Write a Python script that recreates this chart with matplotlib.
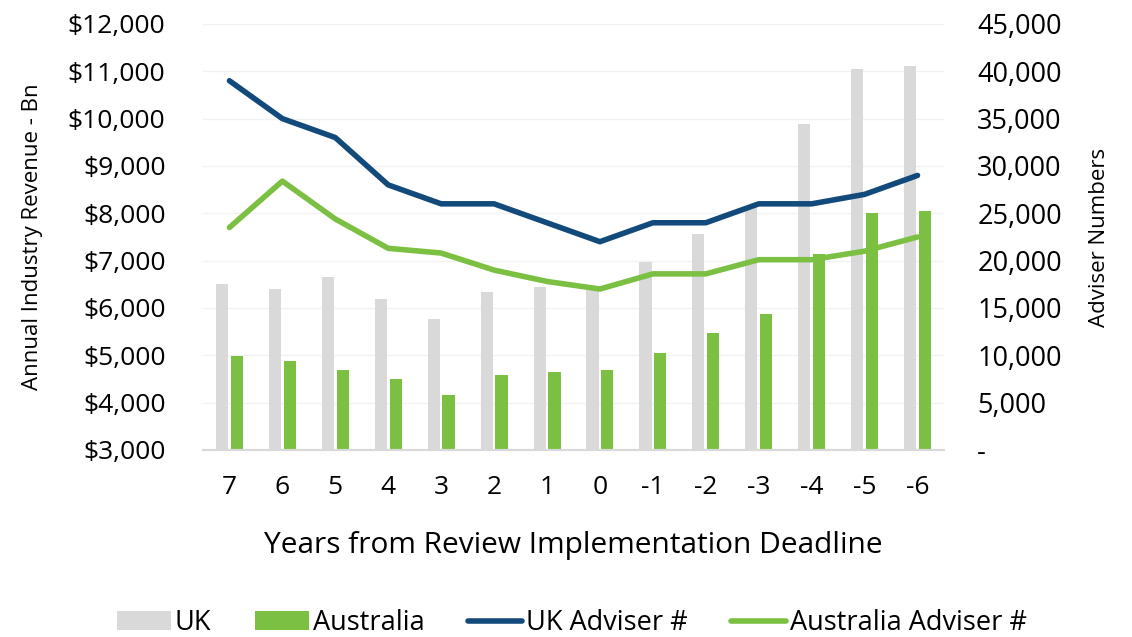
import numpy as np
import matplotlib.pyplot as plt
from matplotlib.ticker import FuncFormatter

# Revenue (left axis, $) and adviser counts (right axis)
years = ["7", "6", "5", "4", "3", "2", "1", "0", "-1", "-2", "-3", "-4", "-5", "-6"]
uk_revenue = [6500, 6410, 6650, 6200, 5770, 6340, 6440, 6380, 6970, 7570, 8150, 9880, 11040, 11120]
aus_revenue = [4990, 4890, 4690, 4490, 4170, 4590, 4650, 4700, 5040, 5480, 5880, 7150, 8000, 8040]
uk_advisers = [39000, 35000, 33000, 28000, 26000, 26000, 24000, 22000, 24000, 24000, 26000, 26000, 27000, 29000]
aus_advisers = [23500, 28400, 24400, 21300, 20800, 19000, 17800, 17000, 18600, 18600, 20100, 20100, 21000, 22500]

plt.rcParams['font.family'] = ['Open Sans', 'DejaVu Sans']

fig = plt.figure(figsize=(11.32, 6.37), dpi=100)
ax = fig.add_axes([0.1793, 0.2936, 0.6546, 0.6688])
ax2 = ax.twinx()

x = np.arange(len(years))
w = 0.23
ax.bar(x - 0.14, uk_revenue, width=w, color="#d9d9d9", label="UK", zorder=2)
ax.bar(x + 0.14, aus_revenue, width=w, color="#7bc043", label="Australia", zorder=2)
ax2.plot(x, uk_advisers, color="#124a7c", lw=4, solid_capstyle="round", label="UK Adviser #")
ax2.plot(x, aus_advisers, color="#7bc043", lw=4, solid_capstyle="round", label="Australia Adviser #")

ax.set_xlim(-0.5, len(years) - 0.5)
ax.set_ylim(3000, 12000)
ax.set_yticks(np.arange(3000, 12001, 1000))
ax.yaxis.set_major_formatter(FuncFormatter(lambda v, p: f"${v:,.0f}"))
ax2.set_ylim(0, 45000)
ax2.set_yticks(np.arange(0, 45001, 5000))
ax2.yaxis.set_major_formatter(FuncFormatter(lambda v, p: "-" if v == 0 else f"{v:,.0f}"))

ax.set_xticks(x)
ax.set_xticklabels(years)
ax.grid(axis="y", color="#f2f2f2", lw=1, zorder=0)
ax.set_axisbelow(True)

for a in (ax, ax2):
    for s in ["top", "left", "right"]:
        a.spines[s].set_visible(False)
    a.spines["bottom"].set_color("#d9d9d9")
    a.spines["bottom"].set_linewidth(1.5)
    a.tick_params(length=0, labelsize=19)
ax.tick_params(axis="x", labelsize=19, pad=18)
ax.tick_params(axis="y", pad=27)
ax2.tick_params(axis="y", labelsize=19.5, pad=24)

ax.set_ylabel("Annual Industry Revenue - Bn", fontsize=16)
ax.yaxis.set_label_coords(-0.216, 0.5)
ax2.set_ylabel("Adviser Numbers", fontsize=16)
ax2.yaxis.set_label_coords(1.196, 0.5)
ax.set_xlabel("Years from Review Implementation Deadline", fontsize=21.5)
ax.xaxis.set_label_coords(0.5, -0.19)

h1, l1 = ax.get_legend_handles_labels()
h2, l2 = ax2.get_legend_handles_labels()
fig.legend(h1 + h2, l1 + l2, loc="center", bbox_to_anchor=(0.505, 0.022), ncol=4,
           frameon=False, fontsize=19.5, handlelength=2.0, handletextpad=0.15, columnspacing=1.6)

fig.savefig("out.png", dpi=100)
